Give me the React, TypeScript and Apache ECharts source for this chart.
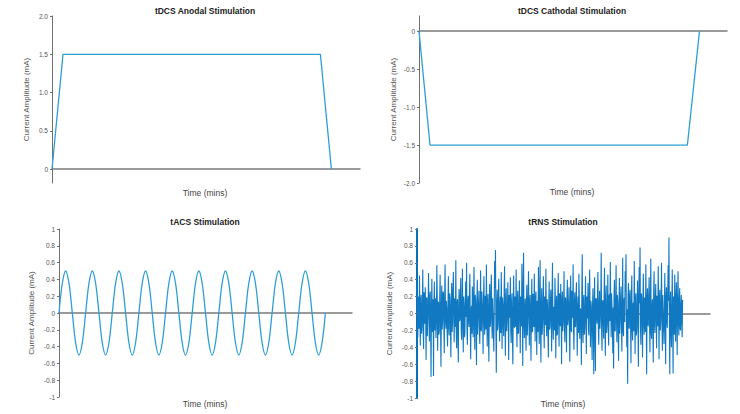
import React, { useEffect, useRef } from "react";
import * as echarts from "echarts";

// tDCS anodal (time in mins, current in mA)
const anodalTime = [0, 1, 24.4, 25.4];
const anodalCurrent = [0, 1.5, 1.5, 0];
// tDCS cathodal
const cathodalTime = [0, 1, 24.4, 25.5];
const cathodalCurrent = [0, -1.5, -1.5, 0];

// tACS: samples every 1/8 cycle over 10 cycles
const tacsStep = 0.125;
const tacsCurrent = [
  0, 0.354, 0.5, 0.354, 0, -0.354, -0.5, -0.354,
  0, 0.354, 0.5, 0.354, 0, -0.354, -0.5, -0.354,
  0, 0.354, 0.5, 0.354, 0, -0.354, -0.5, -0.354,
  0, 0.354, 0.5, 0.354, 0, -0.354, -0.5, -0.354,
  0, 0.354, 0.5, 0.354, 0, -0.354, -0.5, -0.354,
  0, 0.354, 0.5, 0.354, 0, -0.354, -0.5, -0.354,
  0, 0.354, 0.5, 0.354, 0, -0.354, -0.5, -0.354,
  0, 0.354, 0.5, 0.354, 0, -0.354, -0.5, -0.354,
  0, 0.354, 0.5, 0.354, 0, -0.354, -0.5, -0.354,
  0, 0.354, 0.5, 0.354, 0, -0.354, -0.5, -0.354,
  0,
];

// tRNS: noise samples
const trnsCurrent = [
  0.35,-0.1, -0.28,0.2, 0.12,-0.18, 0.45,0.05, -0.38,0.15, 0.22,-0.24, -0.15,0.1, 0.52,-0.2, -0.42,0.25, 0.08,-0.12, 0.31,0.02, -0.55,0.19, 0.18,-0.27, -0.06,0.14, 0.48,-0.08, -0.33,0.21, 0.26,-0.15, -0.75,0.06, 0.41,-0.22, -0.12,0.17,
  -0.74,0.12, 0.38,-0.2, 0.05,0.18, -0.29,-0.06, 0.57,0.22, -0.44,0.09, 0.14,-0.25, -0.21,0.16, 0.46,-0.13, -0.63,0.04, 0.33,-0.19, -0.09,0.26, 0.24,-0.11, -0.47,0.2, 0.58,-0.07, -0.18,0.15, 0.07,-0.23, -0.39,0.1, 0.44,-0.17, -0.26,0.24,
  0.19,-0.14, -0.52,0.08, 0.36,-0.22, -0.11,0.27, 0.49,-0.05, -0.34,0.18, 0.02,-0.16, 0.63,-0.21, -0.41,0.13, 0.17,-0.26, -0.58,0.1, 0.29,-0.09, -0.07,0.23, 0.42,-0.18, -0.31,0.06, 0.53,-0.12, -0.46,0.2, 0.11,-0.28, -0.23,0.15, 0.38,-0.04,
  0.6,-0.2, -0.37,0.14, 0.21,-0.08, -0.16,0.25, 0.47,-0.17, -0.54,0.03, 0.09,-0.24, 0.32,0.11, -0.28,0.19, 0.55,-0.13, -0.43,0.22, 0.15,-0.06, -0.61,0.17, 0.4,-0.25, -0.04,0.12, 0.27,-0.15, -0.36,0.07, 0.51,-0.21, -0.19,0.26, 0.13,-0.1,
  -0.48,0.16, 0.44,-0.09, -0.25,0.21, 0.06,-0.19, 0.58,0.04, -0.39,0.13, 0.23,-0.27, -0.57,0.1, 0.35,-0.16, -0.12,0.24, 0.46,-0.07, -0.3,0.18, 0.18,-0.22, -0.45,0.09, 0.62,0.3, 0.75,-0.15, -0.7,0.05, 0.28,-0.2, -0.14,0.23, 0.41,-0.12,
  -0.33,0.11, 0.2,-0.23, 0.49,0.07, -0.42,0.19, 0.1,-0.14, -0.27,0.26, 0.56,-0.1, -0.5,0.15, 0.3,-0.21, -0.08,0.09, 0.37,-0.18, -0.55,0.22, 0.16,-0.05, 0.43,-0.2, -0.35,0.13, 0.24,-0.25, -0.6,0.06, 0.45,-0.12, -0.17,0.2, 0.08,-0.16,
  0.52,-0.08, -0.4,0.17, 0.27,-0.24, -0.22,0.12, 0.39,-0.03, -0.47,0.2, 0.12,-0.15, 0.59,0.1, -0.62,0.25, 0.72,-0.11, -0.29,0.06, 0.18,-0.2, -0.44,0.14, 0.34,-0.26, -0.1,0.19, 0.5,-0.07, -0.38,0.16, 0.22,-0.13, -0.56,0.08, 0.41,-0.22,
  -0.2,0.23, 0.07,-0.16, 0.47,0.04, -0.33,0.18, 0.26,-0.1, -0.49,0.14, 0.15,-0.22, 0.55,-0.06, -0.36,0.21, 0.63,-0.17, -0.58,0.09, 0.3,-0.25, -0.13,0.12, 0.44,-0.08, -0.41,0.2, 0.19,-0.14, 0.53,0.03, -0.27,0.17, 0.09,-0.23, -0.52,0.11,
  0.38,-0.19, -0.16,0.13, 0.28,-0.07, -0.45,0.22, 0.6,-0.12, -0.31,0.08, 0.04,-0.2, 0.42,0.15, -0.53,0.05, 0.21,-0.26, -0.24,0.18, 0.48,-0.1, -0.39,0.24, 0.14,-0.15, 0.35,0.02, -0.6,0.16, 0.26,-0.21, -0.11,0.09, 0.5,-0.14, -0.34,0.19,
  0.17,-0.09, -0.46,0.21, 0.4,-0.14, -0.07,0.1, 0.31,-0.24, -0.57,0.06, 0.45,-0.18, -0.22,0.27, 0.12,-0.05, 0.58,-0.2, -0.43,0.12, 0.25,-0.16, -0.15,0.19, 0.37,-0.11, -0.5,0.08, 0.2,-0.23, 0.47,0.14, -0.3,0.04, 0.06,-0.17, -0.61,0.22,
  0.7,-0.13, -0.35,0.16, 0.22,-0.25, -0.18,0.07, 0.44,-0.1, -0.48,0.2, 0.13,-0.06, 0.36,-0.19, -0.26,0.23, 0.52,0.02, -0.4,0.15, 0.09,-0.21, -0.55,0.11, 0.3,-0.16, -0.72,0.08, 0.43,-0.24, -0.68,0.17, 0.18,-0.05, -0.12,0.21, 0.49,-0.15,
  -0.37,0.09, 0.27,-0.18, -0.05,0.14, 0.72,-0.22, -0.44,0.12, 0.16,-0.07, -0.3,0.25, 0.54,-0.12, -0.5,0.18, 0.33,-0.23, -0.14,0.05, 0.46,-0.17, -0.38,0.2, 0.23,-0.09, 0.61,0.13, -0.28,0.24, 0.1,-0.15, -0.47,0.07, -0.65,0.19, 0.4,-0.2,
  -0.21,0.14, 0.57,-0.06, -0.34,0.22, 0.15,-0.17, -0.56,0.1, 0.42,-0.24, -0.09,0.18, 0.32,-0.13, -0.45,0.07, 0.66,-0.2, -0.27,0.15, 0.19,-0.1, 0.5,0.26, 0.7,-0.12, -0.4,0.05, -0.83,0.2, 0.36,-0.16, -0.18,0.23, 0.28,-0.08, -0.59,0.13,
  0.45,-0.18, -0.32,0.11, 0.13,-0.21, 0.62,0.06, -0.48,0.17, 0.24,-0.26, -0.2,0.09, 0.39,-0.14, -0.63,0.2, 0.55,0.12, 0.78,-0.16, -0.37,0.24, 0.2,-0.05, -0.52,0.15, 0.47,-0.11, -0.25,0.19, 0.08,-0.22, 0.58,0.04, -0.72,0.16, 0.3,-0.13,
  -0.15,0.2, 0.43,-0.09, -0.46,0.14, 0.65,-0.23, -0.3,0.07, 0.17,-0.18, -0.58,0.25, 0.5,-0.12, -0.23,0.16, 0.35,-0.04, -0.41,0.21, 0.11,-0.15, 0.56,0.1, -0.54,0.18, 0.28,-0.2, -0.1,0.13, 0.6,-0.07, -0.44,0.22, 0.22,-0.17, -0.36,0.09,
  0.48,-0.14, -0.6,0.19, 0.31,-0.08, -0.17,0.24, 0.57,0.15, 0.9,-0.1, -0.72,0.12, 0.26,-0.21, -0.4,0.06, 0.52,-0.16, -0.71,0.2, 0.2,-0.25, 0.46,0.03, -0.33,0.17, 0.37,-0.12, -0.49,0.22, 0.5,-0.09, -0.26,0.14, 0.3,-0.18, -0.2,0.1,
  0.22,-0.12, -0.28,0.16, 0.15,
];

const titles = ["tDCS Anodal Stimulation", "tDCS Cathodal Stimulation", "tACS Stimulation", "tRNS Stimulation"];
const xName = "Time (mins)";
const yName = "Current Amplitude (mA)";
const anodalTicks = [0, 0.5, 1, 1.5, 2];
const cathodalTicks = [-2, -1.5, -1, -0.5, 0];

const FONT = "Liberation Sans, Arial, sans-serif";
const LINE = "#2b9fd5";
const NOISE = "#1079c2";
const AXIS = "#707070";

export default function App() {
  const ref = useRef<HTMLDivElement>(null);
  useEffect(() => {
    document.body.style.margin = "0";
    const chart = echarts.init(ref.current!, null, { renderer: "svg" });

    const fmt1 = (v: number) => (v === 0 ? "0" : v.toFixed(1));
    const fmtAC = (v: number) => {
      const r = Math.round(v * 10) / 10;
      return r === 0 ? "0" : String(r);
    };

    const yBase = (gi: number, gap: number) => ({
      type: "value",
      gridIndex: gi,
      name: yName,
      nameLocation: "middle",
      nameGap: gap,
      nameTextStyle: { fontSize: 8, color: "#555", fontFamily: FONT },
      splitLine: { show: false },
      axisLine: { show: true, lineStyle: { color: AXIS, width: 1 } },
      axisTick: { show: true, length: 2, lineStyle: { color: AXIS } },
      axisLabel: { fontSize: 6.5, color: "#555", fontFamily: FONT, margin: 4 },
    });
    const xBase = (gi: number, max: number) => ({
      type: "value",
      gridIndex: gi,
      min: 0,
      max,
      axisLine: { show: true, onZero: true, lineStyle: { color: "#7a7a7a", width: 1.5 } },
      axisTick: { show: false },
      axisLabel: { show: false },
      splitLine: { show: false },
    });

    const noiseMax = ((trnsCurrent.length - 1) * 293) / 266;

    const textEl = (x: number, y: number, text: string, bold: boolean) => ({
      type: "text",
      x,
      y,
      style: {
        text,
        fontSize: 8.5,
        fontWeight: bold ? "bold" : "normal",
        fill: bold ? "#222" : "#444",
        fontFamily: FONT,
        textAlign: "center",
        textVerticalAlign: "middle",
      },
    });

    chart.setOption({
      animation: false,
      backgroundColor: "#fff",
      grid: [
        { left: 52, top: 16, width: 308, height: 167 },
        { left: 419, top: 16, width: 308, height: 167 },
        { left: 59, top: 229, width: 293, height: 168 },
        { left: 417, top: 229, width: 293, height: 169 },
      ],
      xAxis: [xBase(0, 28), xBase(1, 28), xBase(2, 11), xBase(3, noiseMax)],
      yAxis: [
        {
          ...yBase(0, 22),
          min: -0.18,
          max: 2,
          axisLabel: { ...yBase(0, 22).axisLabel, customValues: anodalTicks, formatter: fmt1 },
          axisTick: { ...yBase(0, 22).axisTick, customValues: anodalTicks },
        },
        {
          ...yBase(1, 22),
          min: -2,
          max: 0.2,
          axisLabel: { ...yBase(1, 22).axisLabel, customValues: cathodalTicks, formatter: fmt1 },
          axisTick: { ...yBase(1, 22).axisTick, customValues: cathodalTicks },
        },
        {
          ...yBase(2, 24),
          min: -1,
          max: 1,
          interval: 0.2,
          axisLabel: { ...yBase(2, 24).axisLabel, formatter: fmtAC },
        },
        {
          ...yBase(3, 24),
          min: -1,
          max: 1,
          interval: 0.2,
          axisLine: { show: true, lineStyle: { color: "#0b6fb5", width: 2 } },
          axisLabel: { ...yBase(3, 24).axisLabel, formatter: fmtAC },
        },
      ],
      series: [
        {
          type: "line",
          xAxisIndex: 0,
          yAxisIndex: 0,
          data: anodalTime.map((t, i) => [t, anodalCurrent[i]]),
          showSymbol: false,
          lineStyle: { color: LINE, width: 1.3 },
        },
        {
          type: "line",
          xAxisIndex: 1,
          yAxisIndex: 1,
          data: cathodalTime.map((t, i) => [t, cathodalCurrent[i]]),
          showSymbol: false,
          lineStyle: { color: LINE, width: 1.3 },
        },
        {
          type: "line",
          xAxisIndex: 2,
          yAxisIndex: 2,
          data: tacsCurrent.map((v, i) => [i * tacsStep, v]),
          showSymbol: false,
          smooth: 0.35,
          lineStyle: { color: LINE, width: 1.3 },
        },
        {
          type: "line",
          xAxisIndex: 3,
          yAxisIndex: 3,
          data: trnsCurrent.map((v, i) => [i, v]),
          showSymbol: false,
          lineStyle: { color: NOISE, width: 1.1 },
        },
      ],
      graphic: [
        textEl(205, 11, titles[0], true),
        textEl(572, 11, titles[1], true),
        textEl(205, 222, titles[2], true),
        textEl(563, 222, titles[3], true),
        textEl(205, 193, xName, false),
        textEl(572, 192, xName, false),
        textEl(205, 404, xName, false),
        textEl(563, 404, xName, false),
      ],
    });
    return () => chart.dispose();
  }, []);
  return <div ref={ref} style={{ width: 740, height: 414 }} />;
}
